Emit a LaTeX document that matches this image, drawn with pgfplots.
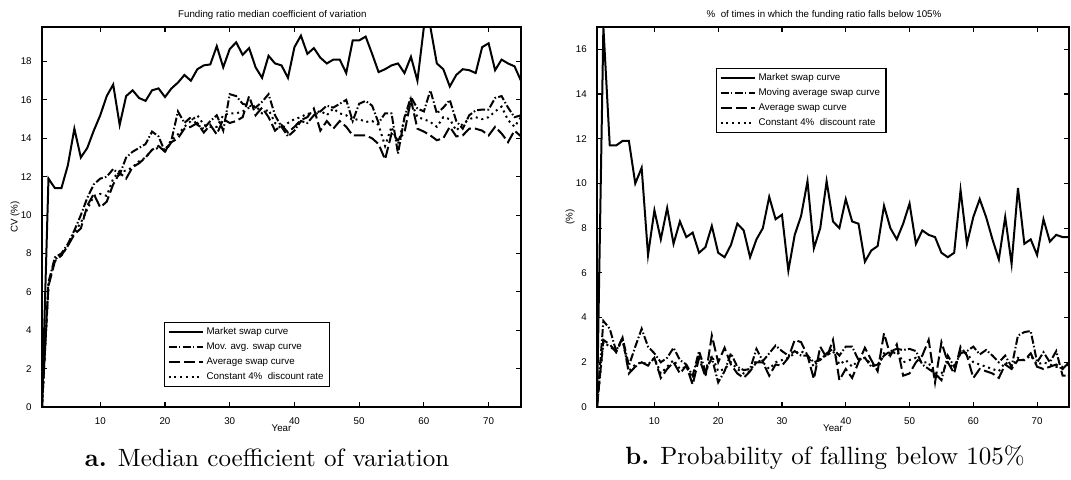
\documentclass[border=0pt]{standalone}
\usepackage{pgfplots}
\pgfplotsset{compat=1.18}
\usepackage{pgfplotstable}
\usepackage{fontspec}
\newfontfamily\axfont{Liberation Sans}
\newcommand\axsize{\axfont\fontsize{3.9}{4.5}\selectfont}

\pgfplotstableread{
year market mov avg const
1 0 0 0 0
2 11.9 6.5 6.3 6.4
3 11.4 7.8 7.6 7.7
4 11.4 8.0 7.9 7.9
5 12.6 8.5 8.4 8.4
6 14.5 9.2 9.0 9.1
7 13.0 10.0 9.3 9.6
8 13.5 10.9 10.5 10.3
9 14.4 11.6 11.1 11.0
10 15.2 11.9 10.4 11.1
11 16.2 12.0 10.7 11.0
12 16.8 12.4 11.6 11.9
13 14.7 12.1 12.2 12.3
14 16.2 13.0 11.9 12.3
15 16.5 13.3 12.5 12.5
16 16.1 13.5 12.7 12.8
17 15.95 13.7 13.0 13.0
18 16.5 14.35 13.4 13.4
19 16.6 14.1 13.6 13.5
20 16.15 13.3 13.3 13.4
21 16.6 13.9 13.8 13.9
22 16.9 15.4 14.0 14.2
23 17.3 14.8 14.5 14.6
24 17.0 15.1 14.6 14.9
25 17.6 14.7 14.8 15.2
26 17.8 14.5 14.3 14.7
27 17.85 14.9 14.7 14.6
28 18.8 15.2 14.2 14.6
29 17.7 14.4 15.0 15.2
30 18.65 16.3 14.8 15.3
31 19.0 16.2 14.9 15.3
32 18.35 15.8 15.1 15.4
33 18.7 15.7 16.2 15.6
34 17.7 15.6 15.2 15.7
35 17.15 15.9 15.6 15.3
36 18.3 16.3 15.1 15.5
37 17.9 15.2 14.4 14.8
38 17.8 14.6 14.7 14.5
39 17.15 14.1 14.3 14.8
40 18.75 14.4 14.6 15.0
41 19.35 14.9 14.95 15.1
42 18.4 14.8 15.1 15.3
43 18.7 15.2 15.55 15.2
44 18.2 15.4 14.4 15.45
45 17.9 15.7 14.9 15.2
46 18.1 15.6 14.5 15.55
47 18.1 15.8 14.9 15.3
48 17.4 16.0 14.6 15.2
49 19.1 14.9 14.15 14.95
50 19.1 15.8 14.15 15.0
51 19.3 15.95 14.15 14.85
52 18.4 15.7 14.0 14.9
53 17.45 14.8 13.7 14.7
54 17.6 15.3 12.9 13.6
55 17.8 15.3 14.25 14.6
56 17.9 13.2 13.9 13.7
57 17.4 15.1 14.3 15.0
58 18.25 16.15 16.0 15.9
59 17.0 15.55 14.5 15.1
60 19.8 15.4 14.35 15.0
61 19.8 16.5 14.15 14.85
62 17.9 15.3 13.9 14.6
63 17.6 15.6 14.0 15.1
64 16.7 16.0 14.6 15.0
65 17.3 14.9 14.1 14.4
66 17.6 14.5 14.15 14.75
67 17.55 15.2 14.5 15.0
68 17.4 15.45 14.5 15.1
69 18.75 15.5 14.4 15.0
70 18.95 15.5 14.15 15.1
71 17.55 16.1 14.6 15.4
72 18.1 16.2 14.25 15.65
73 17.9 15.6 13.8 14.95
74 17.75 15.1 14.4 14.6
75 17.0 15.2 14.1 15.1
}\lefttab

\pgfplotstableread{
year market mov avg const
1 0 0 0 0
2 17.0 3.85 3.0 2.9
3 11.7 3.5 2.8 2.7
4 11.7 2.5 2.45 2.5
5 11.9 3.1 3.1 3.0
6 11.9 1.85 1.5 1.6
7 10.0 2.7 1.8 1.9
8 10.7 3.5 2.0 2.0
9 6.8 2.7 1.85 1.9
10 8.8 2.4 2.2 2.2
11 7.5 2.0 1.3 1.5
12 8.9 2.2 1.7 1.8
13 7.3 2.65 2.0 2.1
14 8.3 2.1 1.5 1.7
15 7.6 1.9 1.85 1.8
16 7.8 1.4 1.0 1.3
17 6.9 2.5 2.2 2.3
18 7.15 1.6 1.35 1.5
19 8.1 2.2 3.2 2.3
20 6.9 1.1 2.0 1.6
21 6.7 1.6 2.65 1.7
22 7.25 2.4 1.9 2.0
23 8.2 1.8 1.5 1.7
24 7.9 1.65 1.3 1.5
25 6.7 1.7 1.6 1.6
26 7.5 2.6 2.0 2.1
27 8.0 2.05 2.0 2.0
28 9.4 2.4 1.4 1.7
29 8.4 2.75 1.9 2.0
30 8.6 2.5 1.85 2.1
31 6.1 2.3 2.2 2.2
32 7.7 2.5 3.0 2.4
33 8.55 2.3 2.9 2.5
34 10.1 2.3 2.3 2.3
35 7.1 2.0 1.25 1.8
36 8.0 2.1 2.7 2.2
37 10.1 2.4 2.2 2.3
38 8.3 2.6 3.0 2.5
39 8.0 2.3 1.2 1.9
40 9.3 2.7 1.7 2.1
41 8.3 2.7 1.3 1.8
42 8.2 2.1 2.0 2.1
43 6.5 2.2 2.65 2.2
44 7.0 1.8 2.1 1.9
45 7.2 1.9 1.6 1.7
46 9.0 2.3 3.3 2.4
47 8.0 2.5 2.3 2.3
48 7.5 2.6 2.8 2.5
49 8.2 2.55 1.4 2.0
50 9.1 2.6 1.5 2.1
51 7.3 2.5 2.0 2.2
52 7.9 1.9 2.3 2.0
53 7.7 1.7 3.0 2.0
54 7.6 1.5 1.1 1.3
55 6.9 1.2 2.9 1.5
56 6.7 2.3 2.0 2.0
57 6.9 1.8 1.5 1.7
58 9.7 2.4 2.7 2.5
59 7.3 2.5 2.3 2.4
60 8.5 2.7 1.3 2.0
61 9.3 2.35 1.7 1.9
62 8.5 2.55 1.6 1.8
63 7.5 2.3 1.5 1.7
64 6.6 2.0 1.3 1.6
65 8.5 2.3 1.9 2.0
66 6.4 1.8 1.7 1.8
67 9.8 3.2 2.1 2.2
68 7.3 3.35 2.1 2.1
69 7.5 3.4 2.4 2.3
70 6.8 2.0 1.8 1.9
71 8.4 2.45 1.7 2.0
72 7.4 2.0 1.8 1.9
73 7.7 2.5 1.9 1.8
74 7.6 1.4 1.7 1.8
75 7.6 1.4 2.0 1.9
}\righttab

\pgfplotsset{
  myaxis/.style={
    scale only axis,
    height=152pt,
    xmin=1, xmax=75,
    xtick={10,20,...,70},
    axis line style={line width=0.45pt},
    every tick/.style={black, line width=0.45pt},
    major tick length=2pt,
    tick align=inside,
    font=\axsize,
    /pgf/number format/assume math mode=true,
    ticklabel style={font=\axsize},
    yticklabel style={xshift=-0.6pt},
    xticklabel style={yshift=-0.8pt},
    xlabel={Year},
    every axis title shift=0pt,
    title style={font=\axsize, anchor=center},
    xlabel style={font=\axsize, anchor=center, at={(axis description cs:0.5,-0.0553)}},
    ylabel style={font=\axsize, anchor=center},
    legend cell align=left,
    legend image code/.code={\draw[##1] (0pt,0pt) -- (13.6pt,0pt);},
    legend style={font=\axsize, draw=black, line width=0.45pt, inner xsep=1.2pt, inner ysep=0.8pt, row sep=0pt,
      nodes={inner sep=1.2pt, text height=2.8pt, text depth=0.8pt}},
    every axis plot/.append style={line width=0.8pt, black},
  },
  mkt/.style={solid},
  mov/.style={dash pattern=on 3.2pt off 0.9pt on 0.6pt off 0.9pt},
  avg/.style={dash pattern=on 4.5pt off 1.6pt},
  cst/.style={dash pattern=on 0.8pt off 1.5pt},
}

\begin{document}
\begin{tikzpicture}
\useasboundingbox (0,0) rectangle (428.4pt,192pt);
\begin{axis}[myaxis,
  at={(16.8pt,29.2pt)}, anchor=south west,
  width=191.6pt,
  ymin=0, ymax=19.8,
  ytick={0,2,...,18},
  title={Funding ratio median coefficient of variation},
  title style={at={(axis description cs:0.481,1.0316)}},
  ylabel={CV (\%)},
  ylabel style={at={(axis description cs:-0.0564,0.5)}},
  legend style={at={(axis description cs:0.2547,0.0526)}, anchor=south west},
]
\addplot[mkt] table[x=year,y=market] {\lefttab};
\addplot[mov] table[x=year,y=mov] {\lefttab};
\addplot[avg] table[x=year,y=avg] {\lefttab};
\addplot[cst] table[x=year,y=const] {\lefttab};
\legend{Market swap curve, Mov. avg. swap curve, Average swap curve, Constant 4\%\ \ discount rate}
\end{axis}

\begin{axis}[myaxis,
  at={(238.8pt,29.2pt)}, anchor=south west,
  width=188.8pt,
  ymin=0, ymax=17,
  ytick={0,2,...,16},
  title={\%\ \ of times in which the funding ratio falls below 105\%},
  title style={at={(axis description cs:0.481,1.0316)}},
  ylabel={(\%)},
  ylabel style={at={(axis description cs:-0.0572,0.5)}},
  legend style={at={(axis description cs:0.2521,0.721)}, anchor=south west},
]
\addplot[mkt] table[x=year,y=market] {\righttab};
\addplot[mov] table[x=year,y=mov] {\righttab};
\addplot[avg] table[x=year,y=avg] {\righttab};
\addplot[cst] table[x=year,y=const] {\righttab};
\legend{Market swap curve, Moving average swap curve, Average swap curve, Constant 4\%\ \ discount rate}
\end{axis}

\node[anchor=center] at (106.8pt,8.8pt) {\textbf{a.} Median coefficient of variation};
\node[anchor=center] at (330pt,8.8pt) {\textbf{b.} Probability of falling below 105\%};
\end{tikzpicture}
\end{document}
